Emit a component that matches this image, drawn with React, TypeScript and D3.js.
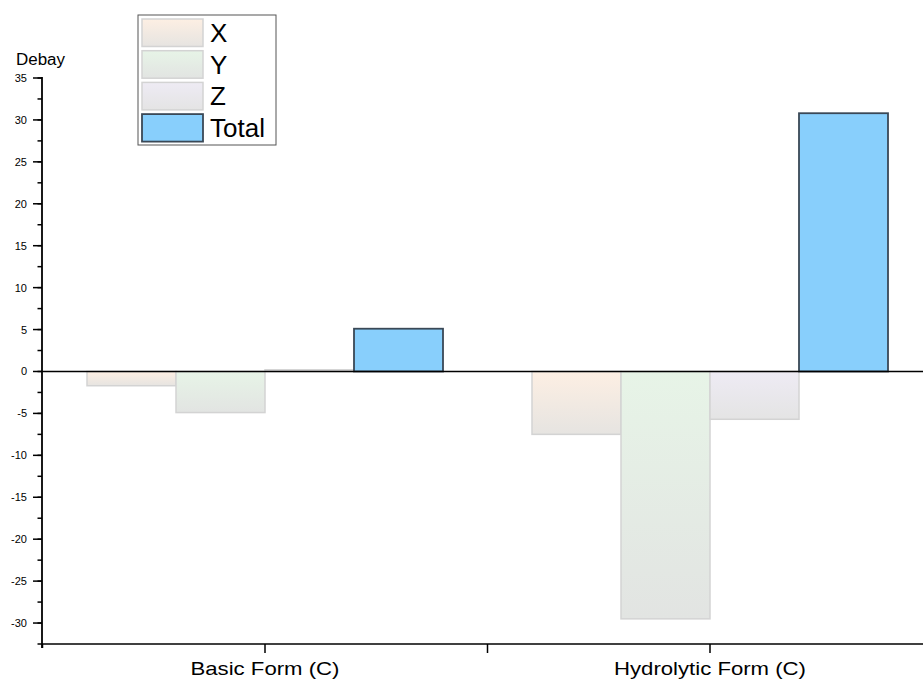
import React from "react";
import * as d3 from "d3";

const categories = ["Basic Form (C)", "Hydrolytic Form (C)"];
const seriesNames = ["X", "Y", "Z", "Total"];
const xValues = [-1.7, -7.5];
const yValues = [-4.9, -29.5];
const zValues = [0.2, -5.7];
const totalValues = [5.1, 30.8];
const yTicks = [-30, -25, -20, -15, -10, -5, 0, 5, 10, 15, 20, 25, 30, 35];
const yLabel = "Debay";

const seriesValues = [xValues, yValues, zValues, totalValues];
const gradStops = [
  ["#fdefe3", "#e6e4e1"],
  ["#e7f4e7", "#e2e4e2"],
  ["#eeebf4", "#e4e4e4"],
];

export default function App() {
  const W = 923, H = 679;
  const x0 = d3.scaleBand<string>().domain(categories).range([42.5, 932.5]).padding(0);
  const x1 = d3.scaleBand<string>().domain(seriesNames).range([0, x0.bandwidth()]).paddingInner(0).paddingOuter(0.5);
  const y = d3.scaleLinear().domain([-32.5, 35]).range([644, 78]);
  const minor = d3.range(-32.5, 35.01, 2.5);
  const axisX = 42;

  return (
    <svg width={W} height={H} style={{ position: "absolute", left: 0, top: 0, background: "#fff" }}
      fontFamily="'Liberation Sans', Arial, sans-serif">
      <defs>
        {gradStops.map((g, i) => (
          <linearGradient key={i} id={`g${i}`} x1="0" y1="0" x2="0" y2="1">
            <stop offset="0" stopColor={g[0]} />
            <stop offset="1" stopColor={g[1]} />
          </linearGradient>
        ))}
      </defs>
      <rect x={0} y={0} width={W} height={H} fill="#fff" />
      {categories.map((c, ci) =>
        seriesNames.map((s, si) => {
          const v = seriesValues[si][ci];
          const bx = (x0(c) as number) + (x1(s) as number);
          const top = y(Math.max(0, v));
          const h = Math.abs(y(v) - y(0));
          const isTotal = si === 3;
          return (
            <rect key={c + s} x={bx} y={top} width={x1.bandwidth()} height={h}
              fill={isTotal ? "#88cffc" : `url(#g${si})`}
              stroke={isTotal ? "#3a4856" : "#d3d3d3"} strokeWidth={isTotal ? 1.8 : 1.5} />
          );
        })
      )}
      {/* zero line */}
      <line x1={axisX} x2={W} y1={y(0)} y2={y(0)} stroke="#000" strokeWidth={1.6} />
      {/* y axis */}
      <line x1={axisX} x2={axisX} y1={y(35) - 1} y2={648} stroke="#000" strokeWidth={1.8} />
      {minor.map((v) => (
        <line key={"m" + v} x1={axisX - 4.5} x2={axisX} y1={y(v)} y2={y(v)} stroke="#000" strokeWidth={1.5} />
      ))}
      {yTicks.map((v) => (
        <g key={"t" + v}>
          <line x1={axisX - 9} x2={axisX} y1={y(v)} y2={y(v)} stroke="#000" strokeWidth={1.5} />
          <text x={27} y={y(v) + 4} textAnchor="end" fontSize={11} fill="#000">{v}</text>
        </g>
      ))}
      <text x={16} y={65} fontSize={16} fill="#000" textLength={49} lengthAdjust="spacingAndGlyphs">{yLabel}</text>
      {/* x axis */}
      <line x1={axisX} x2={W} y1={644} y2={644} stroke="#000" strokeWidth={1.6} />
      {[x0.range()[0], ...categories.map((c) => (x0(c) as number) + x0.bandwidth() / 2), (x0(categories[1]) as number)].map((t, i) => (
        <line key={"xt" + i} x1={t} x2={t} y1={644} y2={i === 0 ? 648 : 653} stroke="#000" strokeWidth={1.5} />
      ))}
      {categories.map((c, i) => (
        <text key={c} x={(x0(c) as number) + x0.bandwidth() / 2} y={674.5} textAnchor="middle" fontSize={18.5}
          fill="#000" textLength={i === 0 ? 149 : 192} lengthAdjust="spacingAndGlyphs">{c}</text>
      ))}
      {/* legend */}
      <rect x={138} y={15} width={138} height={130} fill="#fff" stroke="#555" strokeWidth={1} />
      {seriesNames.map((s, i) => {
        const ry = 19 + i * 31.7;
        const isTotal = i === 3;
        return (
          <g key={"lg" + s}>
            <rect x={142} y={ry} width={61} height={27.5}
              fill={isTotal ? "#88cffc" : `url(#g${i})`}
              stroke={isTotal ? "#3a4856" : "#d3d3d3"} strokeWidth={isTotal ? 1.8 : 1.5} />
            <text x={210} y={ry + 23} fontSize={26} fill="#000">{s}</text>
          </g>
        );
      })}
    </svg>
  );
}
